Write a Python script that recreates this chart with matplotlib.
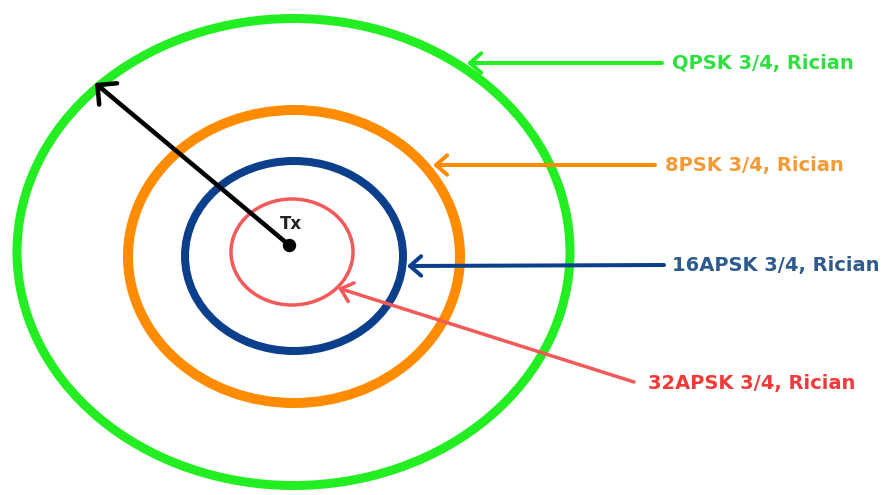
import matplotlib
matplotlib.use("Agg")
import matplotlib.pyplot as plt
from matplotlib.patches import Ellipse

# ---- data (pixel-space diagram) ----
labels = ["QPSK 3/4, Rician", "8PSK 3/4, Rician", "16APSK 3/4, Rician", "32APSK 3/4, Rician"]
ring_colors = ["#22EE22", "#FF8C00", "#0B3F8C", "#F25A5A"]
text_colors = ["#2EE040", "#F59A35", "#2F5A8E", "#F03A3A"]
ring_cx = [293.5, 294, 294, 292]
ring_cy = [252, 256.5, 256, 252]
ring_w = [553, 332, 218, 122]
ring_h = [467, 293, 190, 106]
ring_lw = [9, 10, 8, 3.5]
arrow_tip = [(467, 63), (433, 165), (407, 266), (338, 288)]
arrow_tail = [(662, 63), (655, 165), (664, 265), (634, 382)]
text_pos = [(672, 63), (665, 165), (672, 265), (648, 383)]
tx_center = (289, 245)
radius_tip = (95, 83)

fig = plt.figure(figsize=(8.85, 4.95), dpi=100)
ax = fig.add_axes([0, 0, 1, 1])
ax.set_xlim(0, 885)
ax.set_ylim(495, 0)
ax.axis("off")

PX = 0.72  # points per pixel at 100 dpi

for cx, cy, w, h, lw, c in zip(ring_cx, ring_cy, ring_w, ring_h, ring_lw, ring_colors):
    ax.add_patch(Ellipse((cx, cy), w, h, fill=False, edgecolor=c, linewidth=lw * PX, zorder=2))

for tip, tail, c, lab, tc, tp in zip(arrow_tip, arrow_tail, ring_colors, labels, text_colors, text_pos):
    lw = 4 if c != ring_colors[3] else 3.5
    ax.annotate("", xy=tip, xytext=tail,
                arrowprops=dict(arrowstyle="->,head_length=0.4,head_width=0.35",
                                color=c, lw=lw * PX, shrinkA=0, shrinkB=0,
                                mutation_scale=20),
                zorder=3)
    ax.text(tp[0], tp[1], lab, color=tc, fontsize=14, fontweight="bold",
            family="DejaVu Sans", ha="left", va="center", zorder=4)

# radius arrow
ax.annotate("", xy=radius_tip, xytext=tx_center,
            arrowprops=dict(arrowstyle="->,head_length=0.5,head_width=0.5",
                            color="black", lw=4.5 * PX, shrinkA=0, shrinkB=0,
                            mutation_scale=20),
            zorder=5)
ax.plot([tx_center[0]], [tx_center[1]], "o", color="black", markersize=12 * PX, zorder=6)
ax.text(291, 224, "Tx", color="#222222", fontsize=12, fontweight="bold",
        family="DejaVu Sans", ha="center", va="center", zorder=6)

fig.savefig("out.png", dpi=100)
